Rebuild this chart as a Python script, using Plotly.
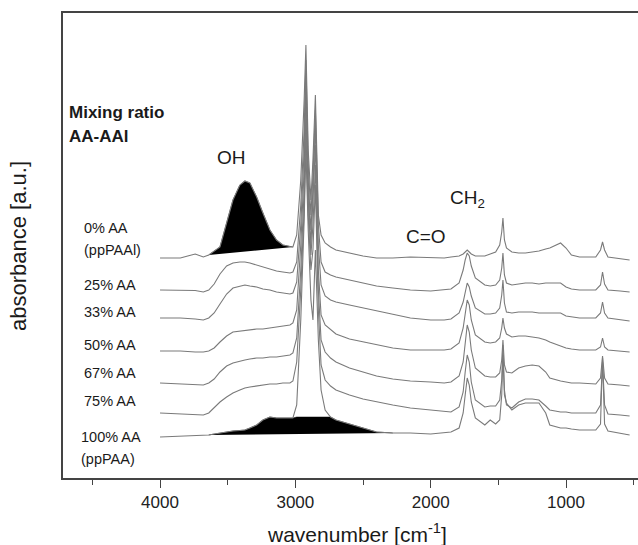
import plotly.graph_objects as go

# ---------------- data (absorbance in arbitrary units, spectra stacked) ----------------
wavenumber = [4000, 3850, 3740, 3680, 3640, 3600, 3557, 3508, 3461, 3410,
              3373, 3336, 3286, 3240, 3188, 3139, 3092, 3040, 3018, 2990,
              2960, 2935, 2922, 2905, 2885, 2870, 2852, 2830, 2810, 2780,
              2740, 2700, 2600, 2500, 2400, 2280, 2150, 2000, 1900, 1850,
              1790, 1760, 1745, 1730, 1715, 1700, 1670, 1600, 1560, 1520,
              1490, 1475, 1466, 1455, 1440, 1400, 1350, 1300, 1250, 1200,
              1150, 1120, 1040, 1000, 960, 900, 780, 745, 730, 715,
              690, 600, 530]

abs_0 = [220, 220, 224, 221, 223, 227, 231, 255, 278, 293,
         297, 295, 281, 265, 248, 238, 233, 231.5, 231, 243,
         298, 378, 433, 328, 278, 318, 383, 263, 243, 235,
         231, 228, 225, 222, 220, 220, 221, 220, 220, 221,
         222, 224, 226, 228, 226, 224, 222, 222, 224, 226,
         233, 246, 260, 238, 230, 226, 225, 225, 226, 227,
         229, 230, 235, 230, 223, 221, 221, 228, 236, 228,
         221, 219, 218]

abs_25 = [188, 188, 187.5, 186, 188, 194, 204, 212, 215, 216,
          216, 215, 213, 211, 209, 207, 206, 205, 206, 216,
          273, 348, 418, 313, 263, 303, 368, 253, 216, 206,
          203, 201, 198, 195, 192, 190, 188, 187, 188, 189,
          195, 208, 218, 225, 222, 212, 200, 193, 192, 193,
          198, 210, 225, 203, 195, 193, 194, 195, 195, 194,
          195, 195, 195, 191, 189, 188, 188, 193, 206, 194,
          188, 187, 186]

abs_33 = [160, 160, 159, 158, 160, 165, 174, 184, 190, 192,
          193, 192, 191, 189, 188, 186, 185, 184, 185, 196,
          253, 328, 403, 298, 248, 288, 353, 233, 193, 182,
          178, 176, 173, 170, 167, 164, 160, 158, 158, 159,
          165, 176, 186, 195, 191, 182, 170, 164, 164, 165,
          170, 183, 198, 175, 166, 165, 166, 166, 166, 165,
          165, 165, 165, 162, 161, 160, 160, 165, 176, 165,
          160, 158, 157]

abs_50 = [127, 127, 126, 126, 127, 130, 136, 142, 146, 147,
          148, 148, 149, 149, 150, 151, 152, 153, 155, 168,
          233, 308, 388, 288, 233, 273, 333, 208, 163, 153,
          148, 144, 139, 136, 133, 130, 128, 128, 128, 129,
          135, 150, 166, 178, 173, 158, 143, 136, 135, 136,
          140, 150, 160, 150, 144, 141, 142, 142, 141, 140,
          138, 136, 132, 130, 129, 128, 128, 131, 140, 131,
          128, 127, 126]

abs_67 = [95, 94, 93, 93, 95, 99, 106, 112, 115, 117,
          118, 119, 120, 120, 121, 121, 122, 123, 125, 140,
          208, 288, 368, 278, 223, 253, 313, 188, 138, 126,
          120, 116, 110, 106, 102, 99, 97, 96, 95, 96,
          102, 116, 136, 153, 146, 128, 110, 102, 101, 101,
          105, 118, 138, 113, 106, 105, 110, 112, 113, 112,
          106, 100, 97, 96, 95, 95, 94, 100, 122, 100,
          94, 93, 92]

abs_75 = [65, 64, 63, 63, 65, 70, 76, 81, 85, 88,
          90, 91, 92, 93, 94, 94, 95, 95, 97, 116,
          188, 268, 348, 263, 208, 228, 293, 168, 113, 98,
          92, 88, 83, 79, 76, 73, 70, 68, 66, 66,
          71, 86, 106, 123, 116, 96, 78, 71, 72, 72,
          78, 98, 133, 88, 73, 70, 76, 79, 79, 78,
          72, 68, 66, 66, 65, 65, 65, 73, 116, 73,
          64, 63, 62]

abs_100 = [41, 42, 42, 42.5, 43, 44, 45, 46, 47, 47.5,
           48, 50, 53, 58, 61, 60, 60, 60, 60, 73,
           158, 258, 328, 248, 178, 158, 228, 138, 88, 68,
           61, 58, 54, 50, 46, 45, 45, 44, 45, 46,
           50, 65, 83, 100, 93, 76, 60, 53, 58, 54,
           58, 83, 123, 83, 75, 68, 73, 75, 75, 75,
           65, 53, 50, 50, 49, 48, 48, 54, 120, 54,
           47, 45, 43]

series_names = ["0% AA", "25% AA", "33% AA", "50% AA", "67% AA", "75% AA", "100% AA"]
series_values = [abs_0, abs_25, abs_33, abs_50, abs_67, abs_75, abs_100]

# shaded bands: OH band of ppPAAl, broad acid band of ppPAA
oh_band_range = [3018, 3640]
acid_band_range = [2280, 3640]
acid_band_cap = 61

# ---------------- figure ----------------
W, H = 638, 545
L, R, T, B = 63, 0, 13, 67
PW, PH = W - L - R, H - T - B

def px(xp):
    return (xp - L) / PW

def py(yp):
    return (H - B - yp) / PH

fig = go.Figure()

# OH band fill (0% AA)
oh_x = [w for w in wavenumber if oh_band_range[0] <= w <= oh_band_range[1]]
oh_y = [v for w, v in zip(wavenumber, abs_0) if oh_band_range[0] <= w <= oh_band_range[1]]
fig.add_trace(go.Scatter(x=oh_x, y=oh_y, mode="lines", fill="toself",
                         fillcolor="black", line=dict(color="black", width=0.5),
                         hoverinfo="skip", showlegend=False))

# acid band fill (100% AA)
ac_x = [w for w in wavenumber if acid_band_range[0] <= w <= acid_band_range[1]]
ac_y = [min(v, acid_band_cap) for w, v in zip(wavenumber, abs_100)
        if acid_band_range[0] <= w <= acid_band_range[1]]
fig.add_trace(go.Scatter(x=ac_x, y=ac_y, mode="lines", fill="toself",
                         fillcolor="black", line=dict(color="black", width=0.5),
                         hoverinfo="skip", showlegend=False))

for name, vals in zip(series_names, series_values):
    fig.add_trace(go.Scatter(x=wavenumber, y=vals, mode="lines", name=name,
                             line=dict(color="#7a7a7a", width=1.1),
                             showlegend=False))

FONT = "Liberation Sans, Arial, Helvetica, sans-serif"
ann = []

def text(x, y, s, size, anchor="left", bold=False, angle=0):
    ann.append(dict(x=px(x), y=py(y), xref="paper", yref="paper", text=s,
                    showarrow=False, xanchor=anchor, yanchor="middle",
                    textangle=angle,
                    font=dict(family=FONT, size=size, color="#1a1a1a")))

text(67, 112, "<b>Mixing ratio</b>", 17)
text(67, 136, "<b>AA-AAl</b>", 17)
text(231, 158, "OH", 19, anchor="center")
text(426, 236, "C=O", 19, anchor="center")
text(448, 199, "CH<sub>2</sub>", 19)
text(82, 228, "0% AA", 14.5)
text(82, 250, "(ppPAAl)", 14.5)
text(82, 285, "25% AA", 14.5)
text(82, 312, "33% AA", 14.5)
text(82, 345, "50% AA", 14.5)
text(82, 373, "67% AA", 14.5)
text(82, 401, "75% AA", 14.5)
text(79, 437, "100% AA", 14.5)
text(79, 459, "(ppPAA)", 14.5)
text(357, 533, "wavenumber [cm<sup>-1</sup>]", 21, anchor="center")
text(18, 246, "absorbance [a.u.]", 22, anchor="center", angle=-90)

fig.update_layout(
    width=W, height=H,
    margin=dict(l=L, r=R, t=T, b=B),
    paper_bgcolor="white", plot_bgcolor="white",
    annotations=ann,
    xaxis=dict(range=[4717, 468], showgrid=False, zeroline=False,
               showline=True, linecolor="#444", linewidth=1.5, mirror=True,
               tickmode="linear", tick0=0, dtick=1000,
               ticks="outside", ticklen=8, tickwidth=1.3, tickcolor="#444",
               tickfont=dict(family=FONT, size=17, color="#222"),
               minor=dict(dtick=500, tick0=0, ticks="outside", ticklen=5,
                          tickwidth=1.3, tickcolor="#444", showgrid=False)),
    yaxis=dict(range=[0, 465], showgrid=False, zeroline=False,
               showline=True, linecolor="#444", linewidth=1.5, mirror=False,
               showticklabels=False, ticks=""),
)

fig.write_html("out.html")
